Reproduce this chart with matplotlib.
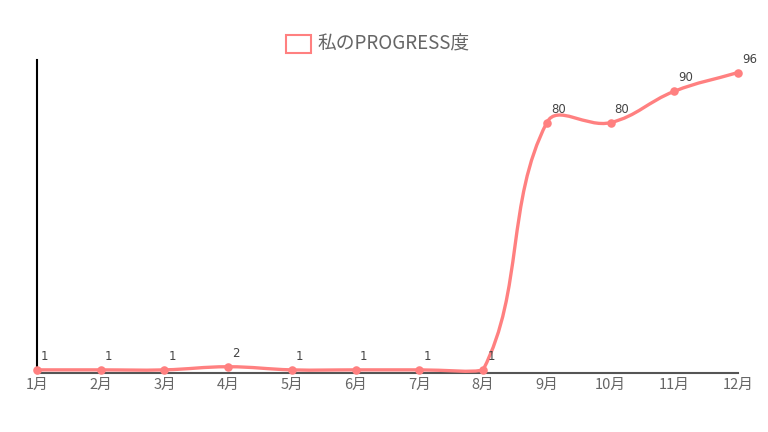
import numpy as np
import matplotlib
matplotlib.use("Agg")
import matplotlib.pyplot as plt
from matplotlib.path import Path
from matplotlib.patches import PathPatch, Rectangle

plt.rcParams['font.family'] = ['Noto Sans CJK JP', 'DejaVu Sans']

months = ['1月', '2月', '3月', '4月', '5月', '6月', '7月', '8月', '9月', '10月', '11月', '12月']
values = [1, 1, 1, 2, 1, 1, 1, 1, 80, 80, 90, 96]
series_label = '私のPROGRESS度'
line_color = '#FF8080'

fig = plt.figure(figsize=(7.68, 4.32), dpi=100)
L, R, B, T = 37/768, 738/768, 1 - 373/432, 1 - 60/432
ax = fig.add_axes([L, B, R - L, T - B])
n = len(values)
ax.set_xlim(0, n - 1)
ax.set_ylim(0, 100)

# Chart.js-like bezier (tension 0.4) computed in pixel space
W = (R - L) * 768
H = (T - B) * 432
sx = W / (n - 1)
sy = H / 100.0
px = np.arange(n) * sx
py = np.array(values, dtype=float) * sy
t = 0.4
cps = []
for i in range(n):
    prev = (px[max(i - 1, 0)], py[max(i - 1, 0)])
    cur = (px[i], py[i])
    nxt = (px[min(i + 1, n - 1)], py[min(i + 1, n - 1)])
    d01 = np.hypot(cur[0] - prev[0], cur[1] - prev[1])
    d12 = np.hypot(nxt[0] - cur[0], nxt[1] - cur[1])
    s01 = d01 / (d01 + d12) if (d01 + d12) else 0
    s12 = d12 / (d01 + d12) if (d01 + d12) else 0
    fa, fb = t * s01, t * s12
    c_prev = (cur[0] - fa * (nxt[0] - prev[0]), cur[1] - fa * (nxt[1] - prev[1]))
    c_next = (cur[0] + fb * (nxt[0] - prev[0]), cur[1] + fb * (nxt[1] - prev[1]))
    c_prev = (c_prev[0], min(max(c_prev[1], 0), H))
    c_next = (c_next[0], min(max(c_next[1], 0), H))
    cps.append((c_prev, c_next))

verts = [(px[0] / sx, py[0] / sy)]
codes = [Path.MOVETO]
for i in range(1, n):
    c1 = cps[i - 1][1]
    c2 = cps[i][0]
    verts += [(c1[0] / sx, c1[1] / sy), (c2[0] / sx, c2[1] / sy), (px[i] / sx, py[i] / sy)]
    codes += [Path.CURVE4] * 3
ax.add_patch(PathPatch(Path(verts, codes), facecolor='none', edgecolor=line_color,
                       lw=2.4, clip_on=False, zorder=3, capstyle='round', joinstyle='round'))
ax.scatter(range(n), values, s=38, color=line_color, zorder=4, clip_on=False, linewidths=0)

for i, v in enumerate(values):
    ax.annotate(str(v), (i, v), xytext=(3, 5), textcoords='offset points',
                ha='left', va='bottom', fontsize=8.5, color='#444444', family=['DejaVu Sans'])

for s in ['top', 'right']:
    ax.spines[s].set_visible(False)
ax.spines['left'].set_color('#000000')
ax.spines['left'].set_linewidth(1.5)
ax.spines['bottom'].set_color('#555555')
ax.spines['bottom'].set_linewidth(1.5)
ax.set_yticks([])
ax.set_xticks(range(n))
ax.set_xticklabels(months, fontsize=10.5, color='#666666')
ax.tick_params(axis='x', length=0, pad=3.5)

# legend
fig.patches.append(Rectangle((286 / 768, 1 - 53 / 432), 25 / 768, 18 / 432,
                             transform=fig.transFigure, facecolor='white',
                             edgecolor=line_color, lw=1.5))
fig.text(318 / 768, 1 - 44 / 432, series_label, fontsize=13.5, color='#666666',
         ha='left', va='center')

fig.savefig('out.png', dpi=100)
